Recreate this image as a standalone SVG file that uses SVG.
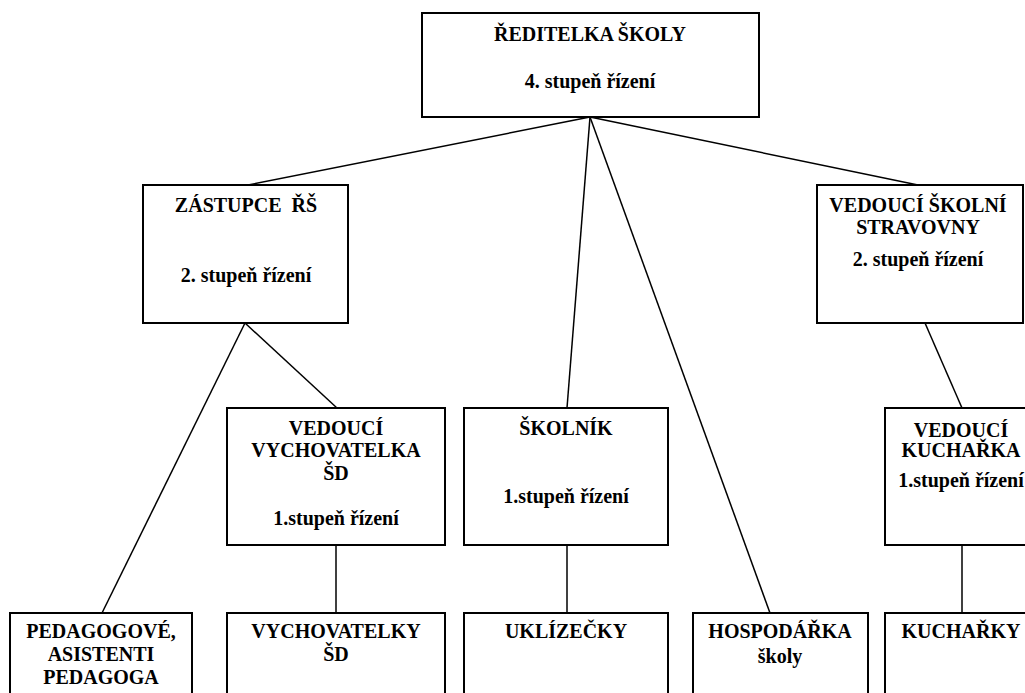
<svg xmlns="http://www.w3.org/2000/svg" width="1025" height="693" viewBox="0 0 1025 693">
<style>
.box{fill:#fff;stroke:#000;stroke-width:2}
.ln{stroke:#000;stroke-width:1.5;fill:none}
text{font-family:'Liberation Serif','Times New Roman','DejaVu Serif',serif;font-weight:bold;font-size:20px;text-anchor:middle;fill:#000}
</style>
<rect width="1025" height="693" fill="#fff"/>
<g id="connectors">
<line class="ln" x1="590" y1="117" x2="248" y2="185"/>
<line class="ln" x1="590" y1="117" x2="918" y2="185"/>
<line class="ln" x1="590" y1="117" x2="567" y2="408"/>
<line class="ln" x1="590" y1="117" x2="770" y2="613"/>
<line class="ln" x1="245" y1="323" x2="102" y2="613"/>
<line class="ln" x1="245" y1="323" x2="337" y2="408"/>
<line class="ln" x1="925" y1="323" x2="962" y2="408"/>
<line class="ln" x1="336" y1="545" x2="336" y2="613"/>
<line class="ln" x1="567" y1="545" x2="567" y2="613"/>
<line class="ln" x1="962" y1="545" x2="962" y2="613"/>
</g>
<g id="reditelka" font-family="Liberation Serif, serif">
<rect class="box" x="422" y="13" width="337" height="104"/>
<text x="590" y="41">ŘEDITELKA ŠKOLY</text>
<text x="590" y="88">4. stupeň řízení</text>
</g>
<g id="zastupce">
<rect class="box" x="143" y="185" width="205" height="138"/>
<text x="246" y="212" xml:space="preserve">ZÁSTUPCE  ŘŠ</text>
<text x="246" y="282">2. stupeň řízení</text>
</g>
<g id="vedouci-stravovny">
<rect class="box" x="817" y="185" width="206" height="138"/>
<text x="918" y="212">VEDOUCÍ ŠKOLNÍ</text>
<text x="918" y="234">STRAVOVNY</text>
<text x="918" y="266">2. stupeň řízení</text>
</g>
<g id="vedouci-vychovatelka">
<rect class="box" x="227" y="408" width="218" height="137"/>
<text x="336" y="435">VEDOUCÍ</text>
<text x="336" y="457">VYCHOVATELKA</text>
<text x="336" y="480">ŠD</text>
<text x="336" y="525">1.stupeň řízení</text>
</g>
<g id="skolnik">
<rect class="box" x="464" y="408" width="204" height="137"/>
<text x="566" y="435">ŠKOLNÍK</text>
<text x="566" y="503">1.stupeň řízení</text>
</g>
<g id="vedouci-kucharka">
<rect class="box" x="885" y="408" width="152" height="137"/>
<text x="961" y="437">VEDOUCÍ</text>
<text x="961" y="457">KUCHAŘKA</text>
<text x="961" y="487">1.stupeň řízení</text>
</g>
<g id="pedagogove">
<rect class="box" x="10" y="613" width="182" height="100"/>
<text x="101" y="638">PEDAGOGOVÉ,</text>
<text x="101" y="661">ASISTENTI</text>
<text x="101" y="684">PEDAGOGA</text>
</g>
<g id="vychovatelky">
<rect class="box" x="227" y="613" width="218" height="100"/>
<text x="336" y="638">VYCHOVATELKY</text>
<text x="336" y="661">ŠD</text>
</g>
<g id="uklizecky">
<rect class="box" x="464" y="613" width="204" height="100"/>
<text x="566" y="638">UKLÍZEČKY</text>
</g>
<g id="hospodarka">
<rect class="box" x="693" y="613" width="175" height="100"/>
<text x="780" y="638">HOSPODÁŘKA</text>
<text x="780" y="663">školy</text>
</g>
<g id="kucharky">
<rect class="box" x="885" y="613" width="152" height="100"/>
<text x="961" y="638">KUCHAŘKY</text>
</g>
</svg>
